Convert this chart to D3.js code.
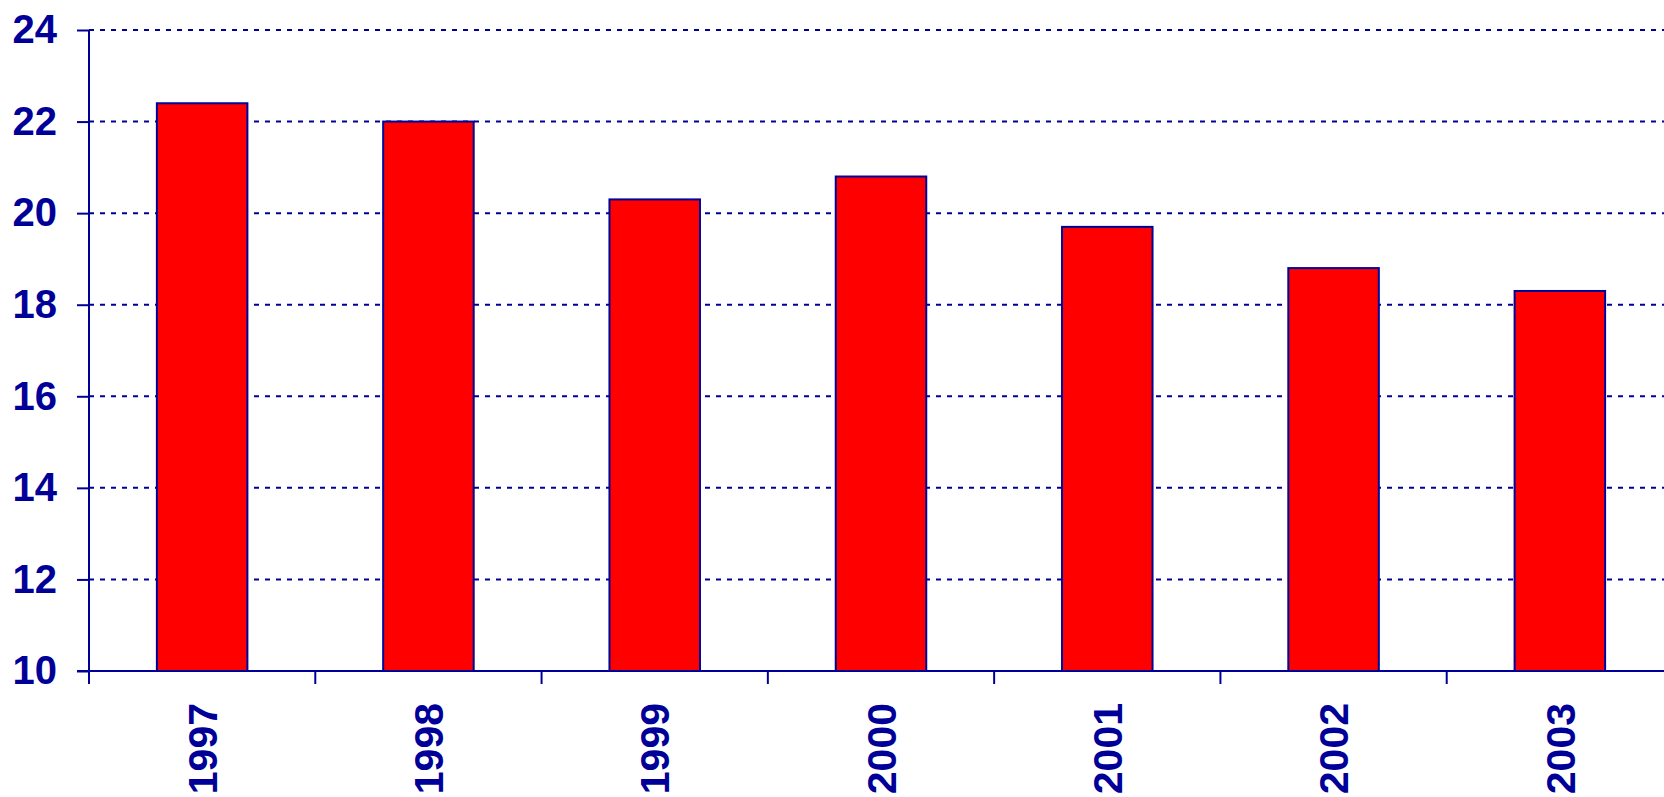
<!DOCTYPE html>
<html>
<head>
<meta charset="utf-8">
<script src="https://cdn.jsdelivr.net/npm/d3@7"></script>
<style>
  body { margin: 0; background: #fff; overflow: hidden; }
  svg { display: block; }
  text { font-family: "Liberation Sans", Arial, sans-serif; font-weight: bold; fill: #000099; }
</style>
</head>
<body>
<script>
var years = ['1997', '1998', '1999', '2000', '2001', '2002', '2003'];
var values = [22.4, 22.0, 20.3, 20.8, 19.7, 18.8, 18.3];
var yTicks = [10, 12, 14, 16, 18, 20, 22, 24];

var w = 1664,
  h = 797;
var margin = { top: 30, left: 89 };
var innerW = 1584, // runs past the right edge, like the original
  innerH = 641;
var navy = '#000099';

var svg = d3.select('body').append('svg')
  .attr('width', w)
  .attr('height', h)
  .append('g')
  .attr('transform', 'translate(' + [margin.left, margin.top] + ')');

var x = d3.scaleBand()
  .domain(years)
  .range([0, innerW])
  .paddingInner(0.6)
  .paddingOuter(0.3);

var y = d3.scaleLinear()
  .domain([10, 24])
  .range([innerH, 0]);

// dotted gridlines
svg.append('g')
  .selectAll('line')
  .data(yTicks.filter(function (d) { return d > 10; }))
  .enter().append('line')
  .attr('x1', 0)
  .attr('x2', innerW)
  .attr('y1', function (d) { return y(d); })
  .attr('y2', function (d) { return y(d); })
  .style('stroke', navy)
  .style('stroke-width', 2)
  .style('stroke-dasharray', '5,6');

// bars
svg.append('g')
  .selectAll('rect')
  .data(values)
  .enter().append('rect')
  .attr('x', function (d, i) { return x(years[i]); })
  .attr('y', function (d) { return y(d); })
  .attr('width', x.bandwidth())
  .attr('height', function (d) { return innerH - y(d); })
  .style('fill', '#ff0000')
  .style('stroke', navy)
  .style('stroke-width', 2);

// y axis
var yAxis = svg.append('g')
  .call(d3.axisLeft(y).tickValues(yTicks).tickSize(12).tickSizeOuter(0).tickPadding(20));
yAxis.select('.domain').remove();
yAxis.selectAll('line').style('stroke', navy).style('stroke-width', 2);
yAxis.selectAll('text').style('font-size', '40px').style('fill', navy)
  .style('font-family', '"Liberation Sans", Arial, sans-serif');
svg.append('line')
  .attr('x1', 0).attr('x2', 0)
  .attr('y1', 0).attr('y2', innerH + 13)
  .style('stroke', navy).style('stroke-width', 2);

// x axis
var xAxis = svg.append('g')
  .attr('transform', 'translate(0,' + innerH + ')')
  .call(d3.axisBottom(x).tickSize(0).tickSizeOuter(0));
xAxis.select('.domain').remove();
xAxis.selectAll('text')
  .attr('transform', 'rotate(-90)')
  .attr('x', -32)
  .attr('y', 0)
  .attr('dy', '0.36em')
  .style('text-anchor', 'end')
  .style('font-size', '41px')
  .style('fill', navy)
  .style('font-family', '"Liberation Sans", Arial, sans-serif');
svg.append('line')
  .attr('x1', -12).attr('x2', innerW)
  .attr('y1', innerH).attr('y2', innerH)
  .style('stroke', navy).style('stroke-width', 2);

// category boundary ticks
svg.append('g')
  .selectAll('line')
  .data(years.slice(1))
  .enter().append('line')
  .attr('x1', function (d) { return x(d) - x.step() * 0.3; })
  .attr('x2', function (d) { return x(d) - x.step() * 0.3; })
  .attr('y1', innerH)
  .attr('y2', innerH + 13)
  .style('stroke', navy)
  .style('stroke-width', 2);
</script>
</body>
</html>
